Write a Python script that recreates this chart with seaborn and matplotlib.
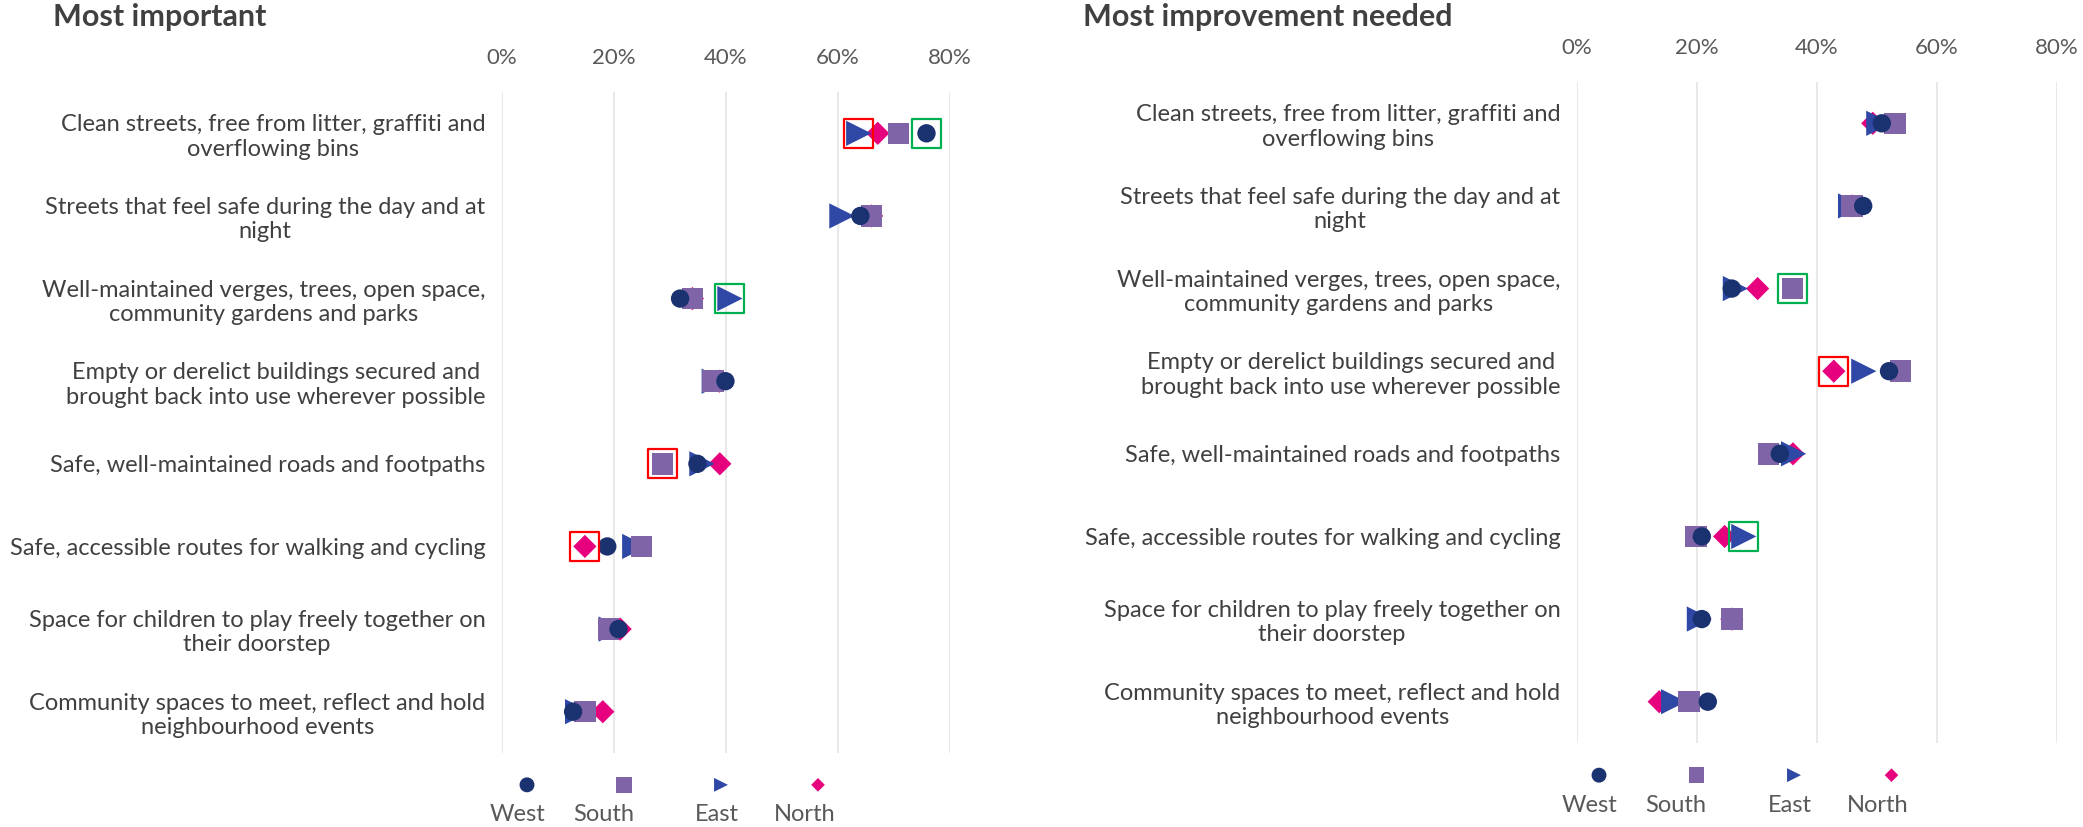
import numpy as np
import pandas as pd
import matplotlib
matplotlib.use("Agg")
import matplotlib.pyplot as plt
import seaborn as sns

# Categories (top to bottom), same for both panels
categories = [
    "Clean streets, free from litter, graffiti and\noverflowing bins",
    "Streets that feel safe during the day and at\nnight",
    "Well-maintained verges, trees, open space,\ncommunity gardens and parks",
    "Empty or derelict buildings secured and\nbrought back into use wherever possible",
    "Safe, well-maintained roads and footpaths",
    "Safe, accessible routes for walking and cycling",
    "Space for children to play freely together on\ntheir doorstep",
    "Community spaces to meet, reflect and hold\nneighbourhood events",
]
regions = ["West", "South", "East", "North"]

# Most important (%)
important_west = [75.8, 64.0, 31.8, 39.9, 34.9, 18.8, 20.8, 12.7]
important_south = [70.8, 66.0, 34.0, 37.7, 28.7, 24.9, 19.0, 14.8]
important_east = [63.7, 60.7, 40.7, 37.9, 35.7, 23.7, 19.5, 13.5]
important_north = [67.1, 66.0, 34.0, 38.8, 38.9, 14.8, 21.1, 18.0]

# Most improvement needed (%)
improve_west = [50.8, 47.7, 25.8, 52.0, 33.8, 20.8, 20.8, 21.8]
improve_south = [53.0, 45.8, 35.9, 53.9, 31.9, 19.8, 25.8, 18.7]
improve_east = [50.3, 45.6, 26.4, 47.8, 36.1, 27.8, 20.4, 16.1]
improve_north = [49.3, 45.8, 30.1, 42.8, 36.0, 24.6, 25.8, 13.7]

# Highlighted points: (category index, region, box colour)
important_highlight = [(0, "East", "red"), (0, "West", "green"), (2, "East", "green"),
                       (4, "South", "red"), (5, "North", "red")]
improve_highlight = [(2, "South", "green"), (3, "North", "red"), (5, "East", "green")]

ticks = [0, 20, 40, 60, 80]

colors = {"West": "#1b3270", "South": "#8064a8", "East": "#2f48a6", "North": "#e6007e"}
markers = {"West": "o", "South": "s", "East": ">", "North": "D"}
sizes = {"West": 175, "South": 240, "East": 330, "North": 140}
legend_sizes = {"West": 115, "South": 128, "East": 100, "North": 48}
legend_label_shift = [-0.1, -0.21, -0.04, -0.14]
box_colors = {"red": "#ff0000", "green": "#00b050"}

sns.set_theme(style="white")
plt.rcParams["font.family"] = ["Lato", "DejaVu Sans"]

W, H = 2083, 827
fig = plt.figure(figsize=(W / 100, H / 100), dpi=100)


def make_df(west, south, east, north):
    # drawing order: North at the bottom, West on top
    parts = []
    for name, vals in [("North", north), ("East", east), ("South", south), ("West", west)]:
        parts.append(pd.DataFrame({"region": name, "row": np.arange(len(vals)), "value": vals}))
    return pd.concat(parts, ignore_index=True)


def draw_panel(rect, df, highlight, title, title_x):
    ax = fig.add_axes(rect)
    sns.scatterplot(data=df, x="value", y="row", hue="region", style="region", size="region",
                    palette=colors, markers=markers, sizes=sizes, linewidth=0,
                    legend=False, ax=ax, zorder=3)
    # boxes around highlighted points
    hx = [df[(df.row == r) & (df.region == g)].value.iloc[0] for r, g, c in highlight]
    hy = [r for r, g, c in highlight]
    hc = [box_colors[c] for r, g, c in highlight]
    ax.scatter(hx, hy, marker="s", s=440, facecolors="none", edgecolors=hc,
               linewidths=1.6, zorder=4)

    ax.set_xlim(0, 80)
    ax.set_ylim(len(categories) - 0.5, -0.5)
    ax.set_xticks(ticks)
    ax.set_xticklabels([f"{t}%" for t in ticks], color="#595959", fontsize=16)
    ax.xaxis.tick_top()
    ax.tick_params(axis="x", length=0, pad=17)
    ax.set_yticks(range(len(categories)))
    ax.set_yticklabels(categories, color="#404040", fontsize=17)
    for t in ax.get_yticklabels():
        t.set_multialignment("center")
    ax.tick_params(axis="y", length=0, pad=12)
    ax.set_xlabel("")
    ax.set_ylabel("")
    ax.grid(axis="x", color="#e6e6e6", linewidth=1.3)
    ax.grid(axis="y", visible=False)
    for s in ax.spines.values():
        s.set_visible(False)
    fig.text(title_x / W, 1 - 17 / H, title, fontsize=22, fontweight="bold",
             color="#404040", va="center", ha="left")
    return ax


def draw_legend(rect, marker_y, label_y):
    lax = fig.add_axes(rect)
    leg = pd.DataFrame({"region": regions, "x": np.arange(len(regions)), "y": marker_y})
    sns.scatterplot(data=leg, x="x", y="y", hue="region", style="region", size="region",
                    palette=colors, markers=markers, sizes=legend_sizes, linewidth=0,
                    legend=False, ax=lax)
    for i, name in enumerate(regions):
        lax.text(i + legend_label_shift[i], label_y, name, ha="center", va="center",
                 fontsize=17, color="#595959")
    lax.set_xlim(-0.5, len(regions) - 0.5)
    lax.set_ylim(0, 1)
    lax.axis("off")


df_imp = make_df(important_west, important_south, important_east, important_north)
df_need = make_df(improve_west, improve_south, improve_east, improve_north)

draw_panel([502 / W, 1 - 753 / H, 448 / W, 661 / H], df_imp, important_highlight,
           "Most important", 53)
draw_panel([1577 / W, 1 - 743 / H, 480 / W, 661 / H], df_need, improve_highlight,
           "Most improvement needed", 1083)

draw_legend([(527 - 48.5) / W, 0, 388 / W, 62 / H], 0.68, 0.2)
draw_legend([(1599 - 48.75) / W, 0, 390 / W, 72 / H], 0.72, 0.3)

fig.savefig("out.png", dpi=100)
